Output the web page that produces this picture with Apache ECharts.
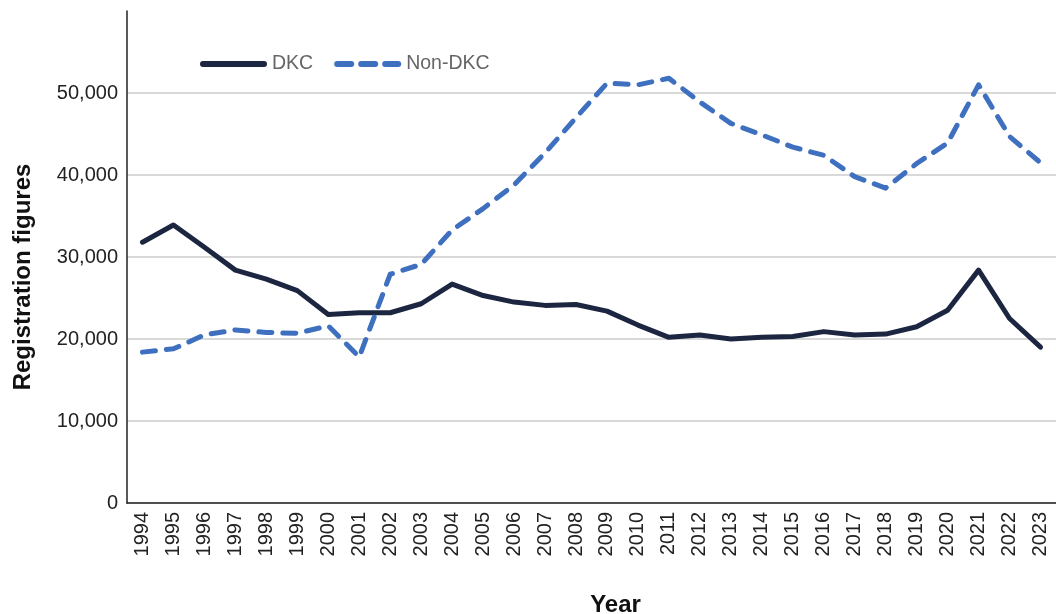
<!DOCTYPE html>
<html>
<head>
<meta charset="utf-8">
<script src="https://cdn.jsdelivr.net/npm/echarts@6/dist/echarts.min.js"></script>
<style>
html,body{margin:0;padding:0;background:#fff;}
#chart{width:1056px;height:614px;}
</style>
</head>
<body>
<div id="chart"></div>
<script>
var years = ['1994','1995','1996','1997','1998','1999','2000','2001','2002','2003','2004','2005','2006','2007','2008','2009','2010','2011','2012','2013','2014','2015','2016','2017','2018','2019','2020','2021','2022','2023'];
var dkc = [31800,33900,31200,28400,27300,25900,23000,23200,23200,24300,26700,25300,24500,24100,24200,23400,21700,20200,20500,20000,20200,20300,20900,20500,20600,21500,23500,28400,22500,19000];
var nonDkc = [18400,18800,20500,21100,20800,20700,21600,17800,27900,29100,33300,35900,38800,42700,47000,51200,51000,51800,48900,46300,44900,43400,42400,39800,38400,41400,43900,51000,44700,41500];
var yTicks = [0,10000,20000,30000,40000,50000,60000];

var chart = echarts.init(document.getElementById('chart'));
var font = 'Liberation Sans, Arial, sans-serif';
var solidIcon = 'path://M3,0H64A3,3 0 0 1 64,6H3A3,3 0 0 1 3,0Z';
var dashIcon = 'path://M3,0H17A3,3 0 0 1 17,6H3A3,3 0 0 1 3,0Z M27,0H41A3,3 0 0 1 41,6H27A3,3 0 0 1 27,0Z M51,0H64A3,3 0 0 1 64,6H51A3,3 0 0 1 51,0Z';
chart.setOption({
  animation:false,
  textStyle:{fontFamily:font},
  grid:{left:127,right:0,top:11,bottom:111,containLabel:false,outerBoundsMode:'none'},
  legend:{
    left:195, top:49,
    itemWidth:67, itemHeight:6, itemGap:21,
    textStyle:{fontSize:19.5,color:'#666',fontFamily:font},
    data:[{name:'DKC',icon:solidIcon},{name:'Non-DKC',icon:dashIcon}]
  },
  xAxis:{
    type:'category', data:years, boundaryGap:true,
    axisLine:{show:true,lineStyle:{color:'#222',width:1.5}},
    axisTick:{show:false},
    axisLabel:{rotate:90,fontSize:20,color:'#222',margin:9,interval:0,fontFamily:font},
    name:'Year', nameLocation:'middle', nameGap:90,
    nameTextStyle:{fontSize:24,fontWeight:'bold',color:'#111',padding:[0,0,0,48],fontFamily:font}
  },
  yAxis:{
    type:'value', min:yTicks[0], max:yTicks[yTicks.length-1], interval:10000,
    axisLine:{show:true,lineStyle:{color:'#222',width:1.5}},
    axisTick:{show:false},
    axisLabel:{fontSize:20,color:'#222',margin:9,showMaxLabel:false,fontFamily:font,
      formatter:function(v){return v.toLocaleString('en-US');}},
    splitLine:{show:true,showMaxLine:false,lineStyle:{color:'#d9d9d9',width:2}},
    name:'Registration figures', nameLocation:'middle', nameGap:92,
    nameTextStyle:{fontSize:24,fontWeight:'bold',color:'#111',padding:[0,40,0,0],fontFamily:font}
  },
  series:[
    {name:'DKC',type:'line',data:dkc,symbol:'none',showSymbol:false,
     lineStyle:{color:'#1c2640',width:5,cap:'round',join:'round'},itemStyle:{color:'#1c2640'}},
    {name:'Non-DKC',type:'line',data:nonDkc,symbol:'none',showSymbol:false,
     lineStyle:{color:'#3f70bf',width:5,type:[13,11],cap:'round',join:'round'},itemStyle:{color:'#3f70bf'}}
  ]
});
</script>
</body>
</html>
